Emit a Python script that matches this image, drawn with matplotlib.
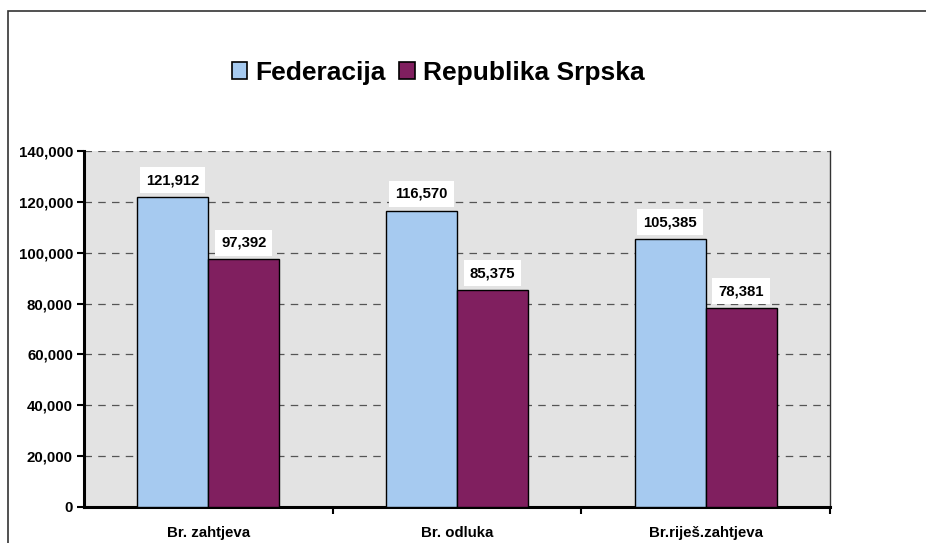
import numpy as np
import matplotlib.pyplot as plt
from matplotlib.patches import Rectangle
from matplotlib.ticker import FuncFormatter

categories = ['Br. zahtjeva', 'Br. odluka', 'Br.riješ.zahtjeva']
federacija = [121912, 116570, 105385]
republika_srpska = [97392, 85375, 78381]
series_names = ['Federacija', 'Republika Srpska']
colors = ['#A6CAF0', '#801F5F']

plt.rcParams['font.family'] = ['Liberation Sans', 'DejaVu Sans']

fig = plt.figure(figsize=(9.26, 5.43), dpi=100)
ax = fig.add_axes([84 / 926, 1 - 507 / 543, (830 - 84) / 926, (507 - 151) / 543])
ax.set_facecolor('#E3E3E3')

# outer chart frame (only left and top visible in the reference)
fig.patches.append(Rectangle((8 / 926, -0.2), 1.2, 1 - 11 / 543 + 0.2,
                             transform=fig.transFigure, fill=False,
                             edgecolor='#333333', linewidth=1.2, zorder=0))

x = np.arange(len(categories))
w = 1 / 3.5
b1 = ax.bar(x - w / 2, federacija, w, color=colors[0], edgecolor='black',
            linewidth=1, label=series_names[0], zorder=3)
b2 = ax.bar(x + w / 2, republika_srpska, w, color=colors[1], edgecolor='black',
            linewidth=1, label=series_names[1], zorder=3)

for bars in (b1, b2):
    for rect in bars:
        v = rect.get_height()
        ax.annotate(f'{v:,.0f}', (rect.get_x() + rect.get_width() / 2, v),
                    xytext=(0, 12), textcoords='offset points', ha='center',
                    va='center', fontsize=10.7, fontweight='bold', zorder=5,
                    bbox=dict(boxstyle='square,pad=0.4', facecolor='white',
                              edgecolor='none'))

ax.set_xlim(-0.5, 2.5)
ax.set_ylim(0, 140000)
ax.set_yticks(np.arange(0, 140001, 20000))
ax.yaxis.set_major_formatter(FuncFormatter(lambda v, p: f'{v:,.0f}'))
ax.yaxis.grid(True, linestyle=(0, (6, 5)), color='#555555', linewidth=0.9, zorder=1)

ax.set_xticks(x)
ax.set_xticklabels(categories)
ax.set_xticks([0.5, 1.5, 2.5], minor=True)
ax.tick_params(axis='x', which='major', length=0, pad=14)
ax.tick_params(axis='x', which='minor', length=5, width=1.5, direction='out')
ax.tick_params(axis='y', length=5, width=1.5, direction='out', pad=3)
for lab in ax.get_xticklabels() + ax.get_yticklabels():
    lab.set_fontweight('bold')
    lab.set_fontsize(10.8)

ax.spines['left'].set_linewidth(2.2)
ax.spines['bottom'].set_linewidth(2.2)
ax.spines['top'].set_visible(False)
ax.spines['right'].set_color('#333333')
ax.spines['right'].set_linewidth(1)

fig.legend(loc='center', bbox_to_anchor=(438 / 926, 1 - 73 / 543), ncol=2,
           frameon=False, prop={'weight': 'bold', 'size': 19},
           handlelength=0.6, handleheight=0.6, handletextpad=0.3,
           columnspacing=0.5)
for h in fig.legends[0].legend_handles:
    h.set_edgecolor('black')
    h.set_linewidth(1.2)

fig.savefig('out.png', dpi=100)
